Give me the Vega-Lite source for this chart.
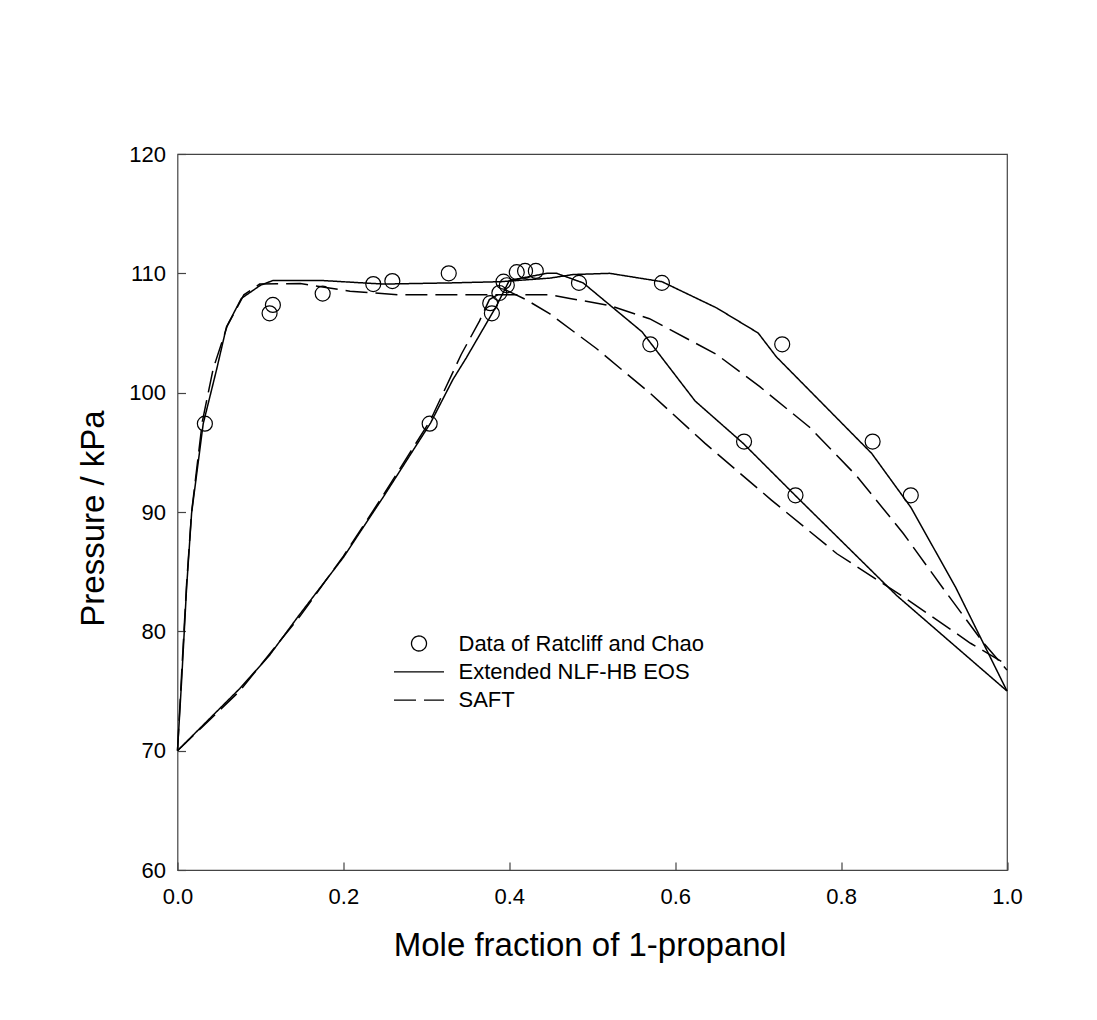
{
  "$schema": "https://vega.github.io/schema/vega-lite/v6.json",
  "width": 829.5,
  "height": 716,
  "autosize": "none",
  "padding": {"left": 177.5, "top": 154, "right": 90, "bottom": 150},
  "background": "white",
  "config": {
    "font": "Liberation Sans",
    "view": {"stroke": "#444", "strokeWidth": 1.2},
    "axis": {
      "grid": false,
      "domain": false,
      "offset": -8,
      "tickColor": "#444",
      "tickWidth": 1.2,
      "tickSize": 8,
      "labelFlush": false,
      "labelFont": "Liberation Sans",
      "labelFontSize": 22,
      "labelColor": "black",
      "titleFont": "Liberation Sans",
      "titleFontSize": 33,
      "titleFontWeight": "normal",
      "titleColor": "black"
    },
    "legend": {
      "orient": "none",
      "legendX": 228,
      "legendY": 476,
      "padding": 0,
      "rowPadding": 3.3,
      "symbolSize": 625,
      "symbolStrokeWidth": 1.3,
      "symbolStrokeColor": "black",
      "labelFont": "Liberation Sans",
      "labelFontSize": 22,
      "labelColor": "black",
      "labelOffset": 26,
      "labelLimit": 0,
      "title": null
    }
  },
  "datasets": {
    "curves": [
      {"series": "Extended NLF-HB EOS", "curve": "bubble", "x": 0.0, "p": 70.0},
      {"series": "Extended NLF-HB EOS", "curve": "bubble", "x": 0.005, "p": 75.9},
      {"series": "Extended NLF-HB EOS", "curve": "bubble", "x": 0.011, "p": 83.7},
      {"series": "Extended NLF-HB EOS", "curve": "bubble", "x": 0.017, "p": 89.9},
      {"series": "Extended NLF-HB EOS", "curve": "bubble", "x": 0.031, "p": 97.4},
      {"series": "Extended NLF-HB EOS", "curve": "bubble", "x": 0.047, "p": 101.9},
      {"series": "Extended NLF-HB EOS", "curve": "bubble", "x": 0.059, "p": 105.5},
      {"series": "Extended NLF-HB EOS", "curve": "bubble", "x": 0.077, "p": 107.9},
      {"series": "Extended NLF-HB EOS", "curve": "bubble", "x": 0.1, "p": 109.0},
      {"series": "Extended NLF-HB EOS", "curve": "bubble", "x": 0.115, "p": 109.4},
      {"series": "Extended NLF-HB EOS", "curve": "bubble", "x": 0.174, "p": 109.4},
      {"series": "Extended NLF-HB EOS", "curve": "bubble", "x": 0.248, "p": 109.1},
      {"series": "Extended NLF-HB EOS", "curve": "bubble", "x": 0.33, "p": 109.2},
      {"series": "Extended NLF-HB EOS", "curve": "bubble", "x": 0.39, "p": 109.3},
      {"series": "Extended NLF-HB EOS", "curve": "bubble", "x": 0.449, "p": 109.6},
      {"series": "Extended NLF-HB EOS", "curve": "bubble", "x": 0.477, "p": 109.9},
      {"series": "Extended NLF-HB EOS", "curve": "bubble", "x": 0.521, "p": 110.0},
      {"series": "Extended NLF-HB EOS", "curve": "bubble", "x": 0.584, "p": 109.3},
      {"series": "Extended NLF-HB EOS", "curve": "bubble", "x": 0.65, "p": 107.1},
      {"series": "Extended NLF-HB EOS", "curve": "bubble", "x": 0.7, "p": 105.0},
      {"series": "Extended NLF-HB EOS", "curve": "bubble", "x": 0.722, "p": 103.0},
      {"series": "Extended NLF-HB EOS", "curve": "bubble", "x": 0.837, "p": 94.9},
      {"series": "Extended NLF-HB EOS", "curve": "bubble", "x": 0.884, "p": 90.4},
      {"series": "Extended NLF-HB EOS", "curve": "bubble", "x": 0.938, "p": 83.7},
      {"series": "Extended NLF-HB EOS", "curve": "bubble", "x": 1.0, "p": 75.0},
      {"series": "Extended NLF-HB EOS", "curve": "dew", "x": 0.0, "p": 70.0},
      {"series": "Extended NLF-HB EOS", "curve": "dew", "x": 0.075, "p": 75.2},
      {"series": "Extended NLF-HB EOS", "curve": "dew", "x": 0.111, "p": 78.0},
      {"series": "Extended NLF-HB EOS", "curve": "dew", "x": 0.146, "p": 81.3},
      {"series": "Extended NLF-HB EOS", "curve": "dew", "x": 0.2, "p": 86.2},
      {"series": "Extended NLF-HB EOS", "curve": "dew", "x": 0.248, "p": 91.25},
      {"series": "Extended NLF-HB EOS", "curve": "dew", "x": 0.305, "p": 97.45},
      {"series": "Extended NLF-HB EOS", "curve": "dew", "x": 0.332, "p": 101.1},
      {"series": "Extended NLF-HB EOS", "curve": "dew", "x": 0.348, "p": 102.9},
      {"series": "Extended NLF-HB EOS", "curve": "dew", "x": 0.384, "p": 107.2},
      {"series": "Extended NLF-HB EOS", "curve": "dew", "x": 0.4, "p": 109.4},
      {"series": "Extended NLF-HB EOS", "curve": "dew", "x": 0.445, "p": 110.0},
      {"series": "Extended NLF-HB EOS", "curve": "dew", "x": 0.457, "p": 110.0},
      {"series": "Extended NLF-HB EOS", "curve": "dew", "x": 0.489, "p": 109.2},
      {"series": "Extended NLF-HB EOS", "curve": "dew", "x": 0.56, "p": 105.1},
      {"series": "Extended NLF-HB EOS", "curve": "dew", "x": 0.624, "p": 99.3},
      {"series": "Extended NLF-HB EOS", "curve": "dew", "x": 0.682, "p": 95.75},
      {"series": "Extended NLF-HB EOS", "curve": "dew", "x": 0.746, "p": 91.3},
      {"series": "Extended NLF-HB EOS", "curve": "dew", "x": 0.867, "p": 83.0},
      {"series": "Extended NLF-HB EOS", "curve": "dew", "x": 1.0, "p": 75.0},
      {"series": "SAFT", "curve": "bubble", "x": 0.0, "p": 70.0},
      {"series": "SAFT", "curve": "bubble", "x": 0.005, "p": 76.5},
      {"series": "SAFT", "curve": "bubble", "x": 0.011, "p": 84.0},
      {"series": "SAFT", "curve": "bubble", "x": 0.017, "p": 90.0},
      {"series": "SAFT", "curve": "bubble", "x": 0.03, "p": 97.6},
      {"series": "SAFT", "curve": "bubble", "x": 0.043, "p": 102.0},
      {"series": "SAFT", "curve": "bubble", "x": 0.06, "p": 105.6},
      {"series": "SAFT", "curve": "bubble", "x": 0.08, "p": 108.2},
      {"series": "SAFT", "curve": "bubble", "x": 0.099, "p": 109.1},
      {"series": "SAFT", "curve": "bubble", "x": 0.148, "p": 109.15},
      {"series": "SAFT", "curve": "bubble", "x": 0.208, "p": 108.5},
      {"series": "SAFT", "curve": "bubble", "x": 0.268, "p": 108.2},
      {"series": "SAFT", "curve": "bubble", "x": 0.35, "p": 108.2},
      {"series": "SAFT", "curve": "bubble", "x": 0.449, "p": 108.2},
      {"series": "SAFT", "curve": "bubble", "x": 0.473, "p": 107.9},
      {"series": "SAFT", "curve": "bubble", "x": 0.521, "p": 107.3},
      {"series": "SAFT", "curve": "bubble", "x": 0.569, "p": 106.2},
      {"series": "SAFT", "curve": "bubble", "x": 0.65, "p": 103.2},
      {"series": "SAFT", "curve": "bubble", "x": 0.702, "p": 100.5},
      {"series": "SAFT", "curve": "bubble", "x": 0.762, "p": 97.1},
      {"series": "SAFT", "curve": "bubble", "x": 0.819, "p": 93.0},
      {"series": "SAFT", "curve": "bubble", "x": 0.875, "p": 88.2},
      {"series": "SAFT", "curve": "bubble", "x": 0.924, "p": 83.5},
      {"series": "SAFT", "curve": "bubble", "x": 0.972, "p": 79.0},
      {"series": "SAFT", "curve": "bubble", "x": 1.0, "p": 76.75},
      {"series": "SAFT", "curve": "dew", "x": 0.0, "p": 70.0},
      {"series": "SAFT", "curve": "dew", "x": 0.075, "p": 75.0},
      {"series": "SAFT", "curve": "dew", "x": 0.148, "p": 81.3},
      {"series": "SAFT", "curve": "dew", "x": 0.2, "p": 86.3},
      {"series": "SAFT", "curve": "dew", "x": 0.248, "p": 91.4},
      {"series": "SAFT", "curve": "dew", "x": 0.305, "p": 97.7},
      {"series": "SAFT", "curve": "dew", "x": 0.342, "p": 103.2},
      {"series": "SAFT", "curve": "dew", "x": 0.364, "p": 106.0},
      {"series": "SAFT", "curve": "dew", "x": 0.376, "p": 107.8},
      {"series": "SAFT", "curve": "dew", "x": 0.396, "p": 108.6},
      {"series": "SAFT", "curve": "dew", "x": 0.42, "p": 107.8},
      {"series": "SAFT", "curve": "dew", "x": 0.449, "p": 106.6},
      {"series": "SAFT", "curve": "dew", "x": 0.505, "p": 103.7},
      {"series": "SAFT", "curve": "dew", "x": 0.569, "p": 100.0},
      {"series": "SAFT", "curve": "dew", "x": 0.636, "p": 95.75},
      {"series": "SAFT", "curve": "dew", "x": 0.716, "p": 91.0},
      {"series": "SAFT", "curve": "dew", "x": 0.795, "p": 86.5},
      {"series": "SAFT", "curve": "dew", "x": 0.875, "p": 82.9},
      {"series": "SAFT", "curve": "dew", "x": 0.956, "p": 79.0},
      {"series": "SAFT", "curve": "dew", "x": 0.988, "p": 77.7},
      {"series": "SAFT", "curve": "dew", "x": 1.0, "p": 77.2}
    ],
    "points": [
      {"series": "Data of Ratcliff and Chao", "x": 0.033, "p": 97.4},
      {"series": "Data of Ratcliff and Chao", "x": 0.111, "p": 106.65},
      {"series": "Data of Ratcliff and Chao", "x": 0.115, "p": 107.35},
      {"series": "Data of Ratcliff and Chao", "x": 0.175, "p": 108.3},
      {"series": "Data of Ratcliff and Chao", "x": 0.236, "p": 109.1},
      {"series": "Data of Ratcliff and Chao", "x": 0.259, "p": 109.35},
      {"series": "Data of Ratcliff and Chao", "x": 0.327, "p": 110.0},
      {"series": "Data of Ratcliff and Chao", "x": 0.304, "p": 97.4},
      {"series": "Data of Ratcliff and Chao", "x": 0.377, "p": 107.5},
      {"series": "Data of Ratcliff and Chao", "x": 0.379, "p": 106.65},
      {"series": "Data of Ratcliff and Chao", "x": 0.388, "p": 108.35},
      {"series": "Data of Ratcliff and Chao", "x": 0.393, "p": 109.3},
      {"series": "Data of Ratcliff and Chao", "x": 0.397, "p": 109.0},
      {"series": "Data of Ratcliff and Chao", "x": 0.409, "p": 110.1},
      {"series": "Data of Ratcliff and Chao", "x": 0.419, "p": 110.2},
      {"series": "Data of Ratcliff and Chao", "x": 0.432, "p": 110.2},
      {"series": "Data of Ratcliff and Chao", "x": 0.484, "p": 109.2},
      {"series": "Data of Ratcliff and Chao", "x": 0.584, "p": 109.2},
      {"series": "Data of Ratcliff and Chao", "x": 0.57, "p": 104.05},
      {"series": "Data of Ratcliff and Chao", "x": 0.683, "p": 95.9},
      {"series": "Data of Ratcliff and Chao", "x": 0.729, "p": 104.05},
      {"series": "Data of Ratcliff and Chao", "x": 0.745, "p": 91.4},
      {"series": "Data of Ratcliff and Chao", "x": 0.838, "p": 95.9},
      {"series": "Data of Ratcliff and Chao", "x": 0.884, "p": 91.4}
    ]
  },
  "encoding": {
    "x": {
      "field": "x",
      "type": "quantitative",
      "scale": {"domain": [0, 1], "nice": false, "zero": false},
      "axis": {
        "values": [0, 0.2, 0.4, 0.6, 0.8, 1.0],
        "format": ".1f",
        "labelPadding": 16,
        "title": "Mole fraction of 1-propanol",
        "titleX": 412,
        "titleY": 83,
        "titleBaseline": "middle",
        "titleAlign": "center"
      }
    },
    "y": {
      "field": "p",
      "type": "quantitative",
      "scale": {"domain": [60, 120], "nice": false, "zero": false},
      "axis": {
        "values": [60, 70, 80, 90, 100, 110, 120],
        "labelPadding": 12,
        "title": "Pressure / kPa",
        "titleX": -92,
        "titleY": 364,
        "titleAngle": 270,
        "titleBaseline": "middle",
        "titleAlign": "center"
      }
    }
  },
  "layer": [
    {
      "data": {"name": "curves"},
      "mark": {"type": "line", "color": "black", "strokeWidth": 1.5},
      "encoding": {
        "strokeDash": {
          "field": "series",
          "type": "nominal",
          "scale": {
            "domain": ["Data of Ratcliff and Chao", "Extended NLF-HB EOS", "SAFT"],
            "range": [[1, 0], [1, 0], [22, 8]]
          },
          "legend": {"title": null}
        },
        "detail": {"field": "curve", "type": "nominal"}
      }
    },
    {
      "data": {"name": "points"},
      "mark": {"type": "point", "filled": false, "color": "black", "strokeWidth": 1.2, "size": 625, "opacity": 1},
      "encoding": {
        "shape": {
          "field": "series",
          "type": "nominal",
          "scale": {
            "domain": ["Data of Ratcliff and Chao", "Extended NLF-HB EOS", "SAFT"],
            "range": ["M0.6,0A0.6,0.6,0,1,1,-0.6,0A0.6,0.6,0,1,1,0.6,0Z", "M-2,0H2", "M-2,0H2"]
          },
          "legend": {"title": null}
        }
      }
    }
  ]
}
